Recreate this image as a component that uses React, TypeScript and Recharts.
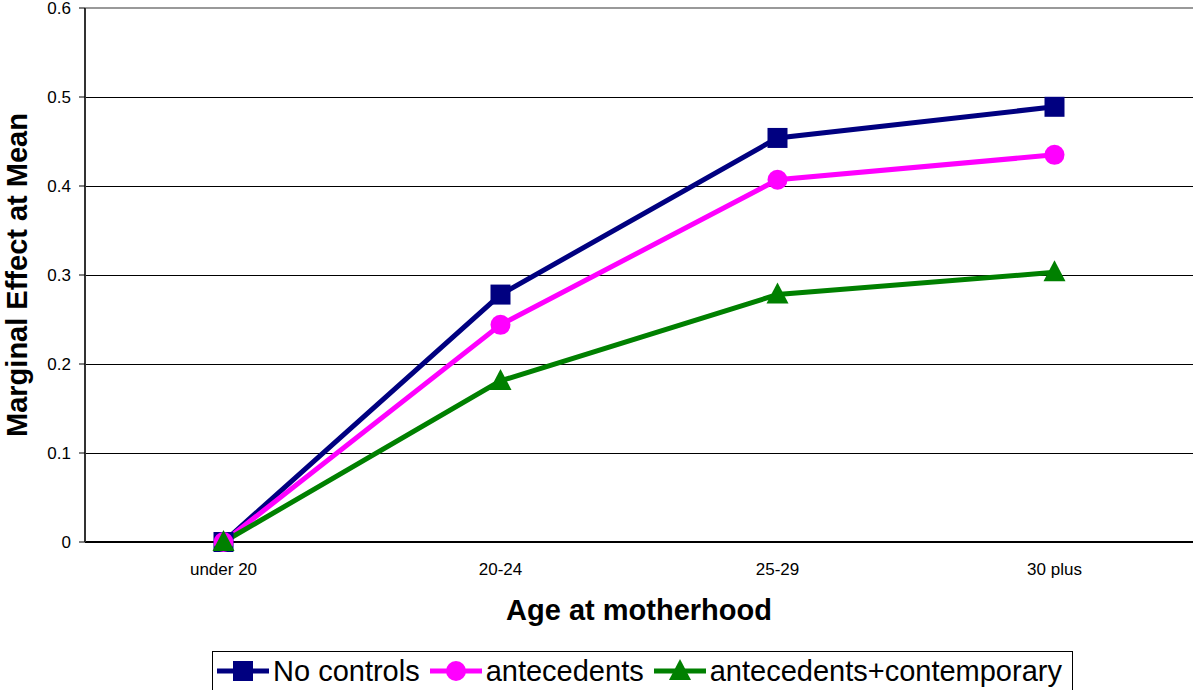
import React from "react";
import {
  LineChart,
  Line,
  XAxis,
  YAxis,
  CartesianGrid,
  Legend,
  ReferenceLine,
} from "recharts";

const categories = ["under 20", "20-24", "25-29", "30 plus"];
const noControls = [0, 0.278, 0.454, 0.489];
const antecedents = [0, 0.244, 0.407, 0.435];
const contemporary = [0, 0.181, 0.278, 0.303];
const yTicks = [0, 0.1, 0.2, 0.3, 0.4, 0.5, 0.6];
const boundaryTicks = [0, 1, 2, 3, 4];

const seriesInfo = [
  { key: "noControls", name: "No controls", color: "#000080", shape: "square" },
  { key: "antecedents", name: "antecedents", color: "#FF00FF", shape: "circle" },
  { key: "contemporary", name: "antecedents+contemporary", color: "#008000", shape: "triangle" },
];

const data = categories.map((c, i) => ({
  cat: c,
  noControls: noControls[i],
  antecedents: antecedents[i],
  contemporary: contemporary[i],
}));

const FONT = "Arial, 'Liberation Sans', sans-serif";

function Marker({ shape, cx, cy, color }: { shape: string; cx: number; cy: number; color: string }) {
  if (cx == null || cy == null) return null;
  if (shape === "square") {
    return <rect x={cx - 10} y={cy - 10} width={20} height={20} fill={color} />;
  }
  if (shape === "circle") {
    return <circle cx={cx} cy={cy} r={10} fill={color} />;
  }
  return (
    <polygon
      points={`${cx},${cy - 12} ${cx + 11},${cy + 9} ${cx - 11},${cy + 9}`}
      fill={color}
    />
  );
}

function makeDot(shape: string, color: string) {
  return (props: any) => (
    <Marker key={`${shape}-${props.index}`} shape={shape} cx={props.cx} cy={props.cy} color={color} />
  );
}

function LegendBox() {
  return (
    <div
      style={{
        display: "inline-flex",
        alignItems: "center",
        border: "1px solid #000",
        background: "#fff",
        padding: "2px 10px 4px 4px",
        fontFamily: FONT,
        fontSize: 29,
        color: "#000",
        whiteSpace: "nowrap",
        lineHeight: "34px",
      }}
    >
      {seriesInfo.map((s, i) => (
        <div key={s.key} style={{ display: "flex", alignItems: "center", marginRight: i < 2 ? 10 : 0 }}>
          <svg width={52} height={34} style={{ marginRight: 4 }}>
            <line x1={0} y1={17} x2={52} y2={17} stroke={s.color} strokeWidth={5} />
            <Marker shape={s.shape} cx={26} cy={17} color={s.color} />
          </svg>
          <span>{s.name}</span>
        </div>
      ))}
    </div>
  );
}

export default function App() {
  return (
    <div style={{ position: "absolute", left: 0, top: 0, width: 1194, height: 690, background: "#fff", overflow: "hidden" }}>
      <LineChart
        width={1194}
        height={690}
        data={data}
        margin={{ top: 8, right: 1, bottom: 88, left: 0 }}
      >
        <CartesianGrid horizontal vertical={false} stroke="#000" strokeWidth={1} shapeRendering="crispEdges" />
        <ReferenceLine y={0.6} stroke="#999" strokeWidth={2} />
        <XAxis
          xAxisId="bounds"
          type="number"
          domain={[0, 4]}
          ticks={boundaryTicks}
          tick={false}
          axisLine={false}
          tickSize={6}
          tickLine={{ stroke: "#000" }}
          height={0}
        />
        <XAxis
          dataKey="cat"
          scale="band"
          height={60}
          tickLine={false}
          axisLine={{ stroke: "#000", strokeWidth: 2 }}
          tickSize={6}
          tickMargin={15}
          tick={{ fontFamily: FONT, fontSize: 17, fill: "#000" }}
          label={{
            content: (p: any) => {
              const vb = p.viewBox || {};
              return (
                <text
                  x={vb.x + vb.width / 2}
                  y={vb.y + 78}
                  textAnchor="middle"
                  fontFamily={FONT}
                  fontWeight="bold"
                  fontSize={29}
                  fill="#000"
                >
                  Age at motherhood
                </text>
              );
            },
          }}
        />
        <YAxis
          width={85}
          domain={[0, 0.6]}
          ticks={yTicks}
          interval={0}
          tickSize={6}
          tickMargin={8}
          axisLine={{ stroke: "#333", strokeWidth: 2 }}
          tickLine={{ stroke: "#000" }}
          tick={{ fontFamily: FONT, fontSize: 17, fill: "#000" }}
          label={{
            content: (p: any) => {
              const vb = p.viewBox || {};
              const cy = vb.y + vb.height / 2;
              return (
                <text
                  x={0}
                  y={0}
                  transform={`translate(27, ${cy}) rotate(-90)`}
                  textAnchor="middle"
                  fontFamily={FONT}
                  fontWeight="bold"
                  fontSize={29}
                  fill="#000"
                >
                  Marginal Effect at Mean
                </text>
              );
            },
          }}
        />
        <YAxis
          yAxisId="right"
          orientation="right"
          width={0}
          tick={false}
          tickLine={false}
          axisLine={{ stroke: "#999", strokeWidth: 2 }}
        />
        <Legend
          layout="horizontal"
          verticalAlign="middle"
          align="center"
          content={() => <LegendBox />}
          wrapperStyle={{ position: "absolute", left: 212, top: 651, width: "auto", bottom: "auto", right: "auto" }}
        />
        {seriesInfo.map((s) => (
          <Line
            key={s.key}
            dataKey={s.key}
            name={s.name}
            stroke={s.color}
            strokeWidth={5}
            dot={makeDot(s.shape, s.color)}
            activeDot={false}
            isAnimationActive={false}
          />
        ))}
      </LineChart>
    </div>
  );
}
